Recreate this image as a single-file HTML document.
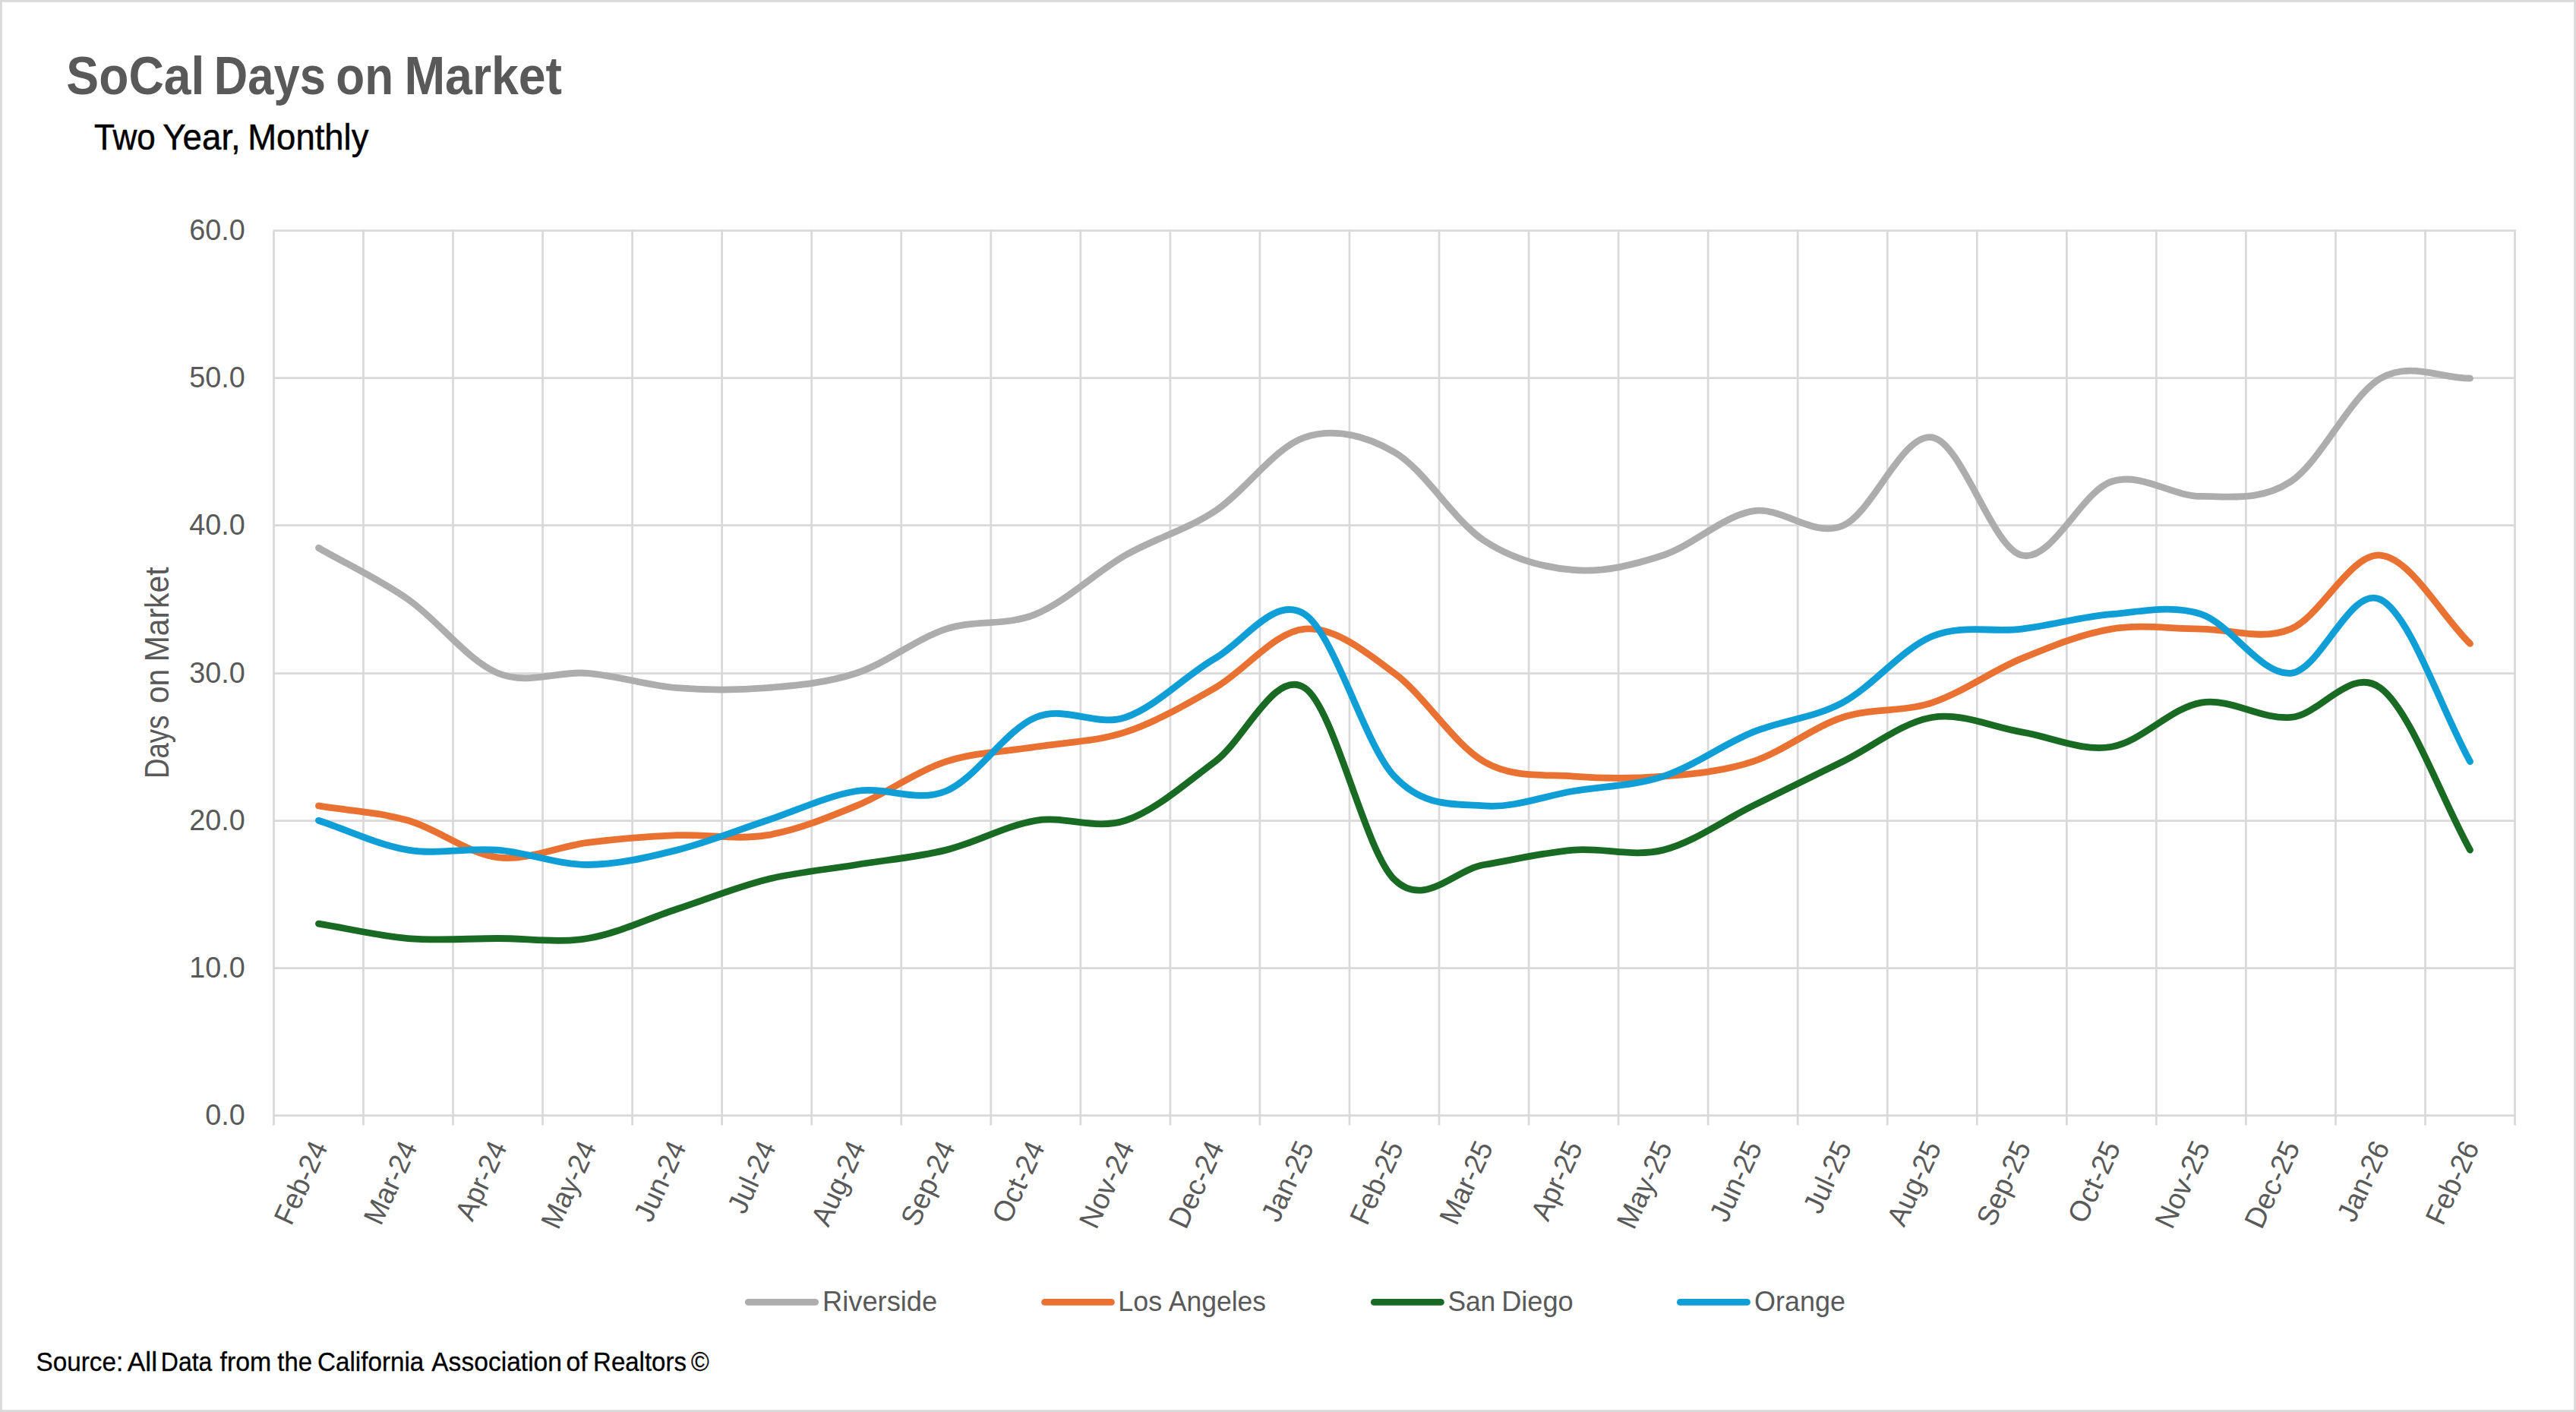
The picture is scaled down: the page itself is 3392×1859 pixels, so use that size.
<!DOCTYPE html>
<html lang="en"><head><meta charset="utf-8"><title>SoCal Days on Market</title>
<style>html,body{margin:0;padding:0;background:#fff;overflow:hidden}svg{display:block}text{font-family:"Liberation Sans",sans-serif}</style></head><body>
<svg width="3392" height="1859" viewBox="0 0 3392 1859">
<rect x="0" y="0" width="3392" height="1859" fill="#fff"/>
<rect x="1.4" y="1.4" width="3389.2" height="1856.2" fill="none" stroke="#D9D9D9" stroke-width="2.8"/>
<g stroke="#D9D9D9" stroke-width="2.75" fill="none">
<line x1="359.47" y1="1468.55" x2="3312.93" y2="1468.55"/>
<line x1="359.47" y1="1274.60" x2="3311.55" y2="1274.60"/>
<line x1="359.47" y1="1080.66" x2="3311.55" y2="1080.66"/>
<line x1="359.47" y1="886.62" x2="3311.55" y2="886.62"/>
<line x1="359.47" y1="691.62" x2="3311.55" y2="691.62"/>
<line x1="359.47" y1="497.68" x2="3311.55" y2="497.68"/>
<line x1="359.47" y1="303.56" x2="3311.55" y2="303.56"/>
<line x1="360.45" y1="304.56" x2="360.45" y2="1481.60"/>
<line x1="478.49" y1="302.19" x2="478.49" y2="1481.60"/>
<line x1="596.54" y1="302.19" x2="596.54" y2="1481.60"/>
<line x1="714.58" y1="302.19" x2="714.58" y2="1481.60"/>
<line x1="832.63" y1="302.19" x2="832.63" y2="1481.60"/>
<line x1="950.67" y1="302.19" x2="950.67" y2="1481.60"/>
<line x1="1068.71" y1="302.19" x2="1068.71" y2="1481.60"/>
<line x1="1186.76" y1="302.19" x2="1186.76" y2="1481.60"/>
<line x1="1304.80" y1="302.19" x2="1304.80" y2="1481.60"/>
<line x1="1422.85" y1="302.19" x2="1422.85" y2="1481.60"/>
<line x1="1540.89" y1="302.19" x2="1540.89" y2="1481.60"/>
<line x1="1658.93" y1="302.19" x2="1658.93" y2="1481.60"/>
<line x1="1776.98" y1="302.19" x2="1776.98" y2="1481.60"/>
<line x1="1895.02" y1="302.19" x2="1895.02" y2="1481.60"/>
<line x1="2013.07" y1="302.19" x2="2013.07" y2="1481.60"/>
<line x1="2131.11" y1="302.19" x2="2131.11" y2="1481.60"/>
<line x1="2249.15" y1="302.19" x2="2249.15" y2="1481.60"/>
<line x1="2367.20" y1="302.19" x2="2367.20" y2="1481.60"/>
<line x1="2485.24" y1="302.19" x2="2485.24" y2="1481.60"/>
<line x1="2603.29" y1="302.19" x2="2603.29" y2="1481.60"/>
<line x1="2721.33" y1="302.19" x2="2721.33" y2="1481.60"/>
<line x1="2839.37" y1="302.19" x2="2839.37" y2="1481.60"/>
<line x1="2957.42" y1="302.19" x2="2957.42" y2="1481.60"/>
<line x1="3075.46" y1="302.19" x2="3075.46" y2="1481.60"/>
<line x1="3193.51" y1="302.19" x2="3193.51" y2="1481.60"/>
<line x1="3311.55" y1="302.19" x2="3311.55" y2="1481.60"/>
</g>
<g fill="none" stroke-width="8.80" stroke-linecap="round" stroke-linejoin="round">
<path stroke="#ADADAD" d="M419.47 721.34 C458.82 743.98 498.17 761.77 537.52 789.25 C576.86 816.74 616.21 870.10 655.56 886.27 C694.91 902.44 734.26 883.04 773.60 886.27 C812.95 889.50 852.30 902.44 891.65 905.67 C931.00 908.91 970.34 908.91 1009.69 905.67 C1049.04 902.44 1088.39 899.21 1127.74 886.27 C1167.08 873.33 1206.43 841.00 1245.78 828.06 C1285.13 815.13 1324.48 824.83 1363.82 808.66 C1403.17 792.49 1442.52 753.68 1481.87 731.05 C1521.22 708.41 1560.56 698.71 1599.91 672.84 C1639.26 646.97 1678.61 588.76 1717.96 575.82 C1757.30 562.89 1796.65 572.59 1836.00 595.22 C1875.35 617.86 1914.70 685.77 1954.04 711.64 C1993.39 737.51 2032.74 747.22 2072.09 750.45 C2111.44 753.68 2150.78 743.98 2190.13 731.05 C2229.48 718.11 2268.83 679.30 2308.18 672.84 C2347.52 666.37 2386.87 708.41 2426.22 692.24 C2465.57 676.07 2504.92 569.35 2544.26 575.82 C2583.61 582.29 2622.96 721.34 2662.31 731.05 C2701.66 740.75 2741.00 646.97 2780.35 634.03 C2819.70 621.10 2859.05 653.43 2898.40 653.43 C2937.74 653.43 2977.09 659.90 3016.44 634.03 C3055.79 608.16 3095.14 520.85 3134.48 498.21 C3173.83 475.57 3213.18 498.21 3252.53 498.21"/>
<path stroke="#E97132" d="M419.47 1060.90 C458.82 1067.36 498.17 1068.98 537.52 1080.30 C576.86 1091.62 616.21 1123.96 655.56 1128.81 C694.91 1133.66 734.26 1114.26 773.60 1109.40 C812.95 1104.55 852.30 1101.32 891.65 1099.70 C931.00 1098.09 970.34 1106.17 1009.69 1099.70 C1049.04 1093.24 1088.39 1077.07 1127.74 1060.90 C1167.08 1044.73 1206.43 1015.62 1245.78 1002.69 C1285.13 989.75 1324.48 989.75 1363.82 983.28 C1403.17 976.82 1442.52 976.82 1481.87 963.88 C1521.22 950.95 1560.56 928.31 1599.91 905.67 C1639.26 883.04 1678.61 831.29 1717.96 828.06 C1757.30 824.83 1796.65 857.17 1836.00 886.27 C1875.35 915.37 1914.70 980.05 1954.04 1002.69 C1993.39 1025.32 2032.74 1018.86 2072.09 1022.09 C2111.44 1025.32 2150.78 1025.32 2190.13 1022.09 C2229.48 1018.86 2268.83 1015.62 2308.18 1002.69 C2347.52 989.75 2386.87 957.41 2426.22 944.48 C2465.57 931.54 2504.92 938.01 2544.26 925.08 C2583.61 912.14 2622.96 883.04 2662.31 866.87 C2701.66 850.70 2741.00 834.53 2780.35 828.06 C2819.70 821.59 2859.05 828.06 2898.40 828.06 C2937.74 828.06 2977.09 844.23 3016.44 828.06 C3055.79 811.89 3095.14 727.81 3134.48 731.05 C3173.83 734.28 3213.18 808.66 3252.53 847.46"/>
<path stroke="#196B24" d="M419.47 1216.12 C458.82 1222.59 498.17 1232.29 537.52 1235.52 C576.86 1238.76 616.21 1235.52 655.56 1235.52 C694.91 1235.52 734.26 1241.99 773.60 1235.52 C812.95 1229.06 852.30 1209.65 891.65 1196.72 C931.00 1183.78 970.34 1167.61 1009.69 1157.91 C1049.04 1148.21 1088.39 1144.98 1127.74 1138.51 C1167.08 1132.04 1206.43 1128.81 1245.78 1119.11 C1285.13 1109.40 1324.48 1086.77 1363.82 1080.30 C1403.17 1073.83 1442.52 1093.24 1481.87 1080.30 C1521.22 1067.36 1560.56 1031.79 1599.91 1002.69 C1639.26 973.58 1678.61 879.80 1717.96 905.67 C1757.30 931.54 1796.65 1119.11 1836.00 1157.91 C1875.35 1196.72 1914.70 1144.98 1954.04 1138.51 C1993.39 1132.04 2032.74 1122.34 2072.09 1119.11 C2111.44 1115.87 2150.78 1128.81 2190.13 1119.11 C2229.48 1109.40 2268.83 1080.30 2308.18 1060.90 C2347.52 1041.49 2386.87 1022.09 2426.22 1002.69 C2465.57 983.28 2504.92 950.95 2544.26 944.48 C2583.61 938.01 2622.96 957.41 2662.31 963.88 C2701.66 970.35 2741.00 989.75 2780.35 983.28 C2819.70 976.82 2859.05 931.54 2898.40 925.08 C2937.74 918.61 2977.09 947.71 3016.44 944.48 C3055.79 941.25 3095.14 876.57 3134.48 905.67 C3173.83 934.78 3213.18 1047.96 3252.53 1119.11"/>
<path stroke="#0F9ED5" d="M419.47 1080.30 C458.82 1093.24 498.17 1112.64 537.52 1119.11 C576.86 1125.57 616.21 1115.87 655.56 1119.11 C694.91 1122.34 734.26 1138.51 773.60 1138.51 C812.95 1138.51 852.30 1128.81 891.65 1119.11 C931.00 1109.40 970.34 1093.24 1009.69 1080.30 C1049.04 1067.36 1088.39 1047.96 1127.74 1041.49 C1167.08 1035.03 1206.43 1057.66 1245.78 1041.49 C1285.13 1025.32 1324.48 960.65 1363.82 944.48 C1403.17 928.31 1442.52 957.41 1481.87 944.48 C1521.22 931.54 1560.56 889.50 1599.91 866.87 C1639.26 844.23 1678.61 782.79 1717.96 808.66 C1757.30 834.53 1796.65 980.05 1836.00 1022.09 C1875.35 1064.13 1914.70 1057.66 1954.04 1060.90 C1993.39 1064.13 2032.74 1047.96 2072.09 1041.49 C2111.44 1035.03 2150.78 1035.03 2190.13 1022.09 C2229.48 1009.16 2268.83 980.05 2308.18 963.88 C2347.52 947.71 2386.87 946.10 2426.22 925.08 C2465.57 904.06 2504.92 853.93 2544.26 837.76 C2583.61 821.59 2622.96 832.91 2662.31 828.06 C2701.66 823.21 2741.00 811.89 2780.35 808.66 C2819.70 805.42 2859.05 795.72 2898.40 808.66 C2937.74 821.59 2977.09 889.50 3016.44 886.27 C3055.79 883.04 3095.14 769.85 3134.48 789.25 C3173.83 808.66 3213.18 931.54 3252.53 1002.69"/>
</g>
<text y="123.90" font-size="70.20" fill="#595959" font-weight="bold"><tspan x="87.35" textLength="182.00" lengthAdjust="spacingAndGlyphs">SoCal</tspan> <tspan x="281.78" textLength="147.14" lengthAdjust="spacingAndGlyphs">Days</tspan> <tspan x="442.28" textLength="75.77" lengthAdjust="spacingAndGlyphs">on</tspan> <tspan x="532.39" textLength="207.70" lengthAdjust="spacingAndGlyphs">Market</tspan></text>
<text y="196.90" font-size="47.30" fill="#000" stroke="#000" stroke-width="0.5"><tspan x="124.01" textLength="80.84" lengthAdjust="spacingAndGlyphs">Two</tspan> <tspan x="214.30" textLength="102.51" lengthAdjust="spacingAndGlyphs">Year,</tspan> <tspan x="326.27" textLength="159.12" lengthAdjust="spacingAndGlyphs">Monthly</tspan></text>
<text transform="translate(322.70 1481.15) scale(0.9920 1)" font-size="38.10" fill="#595959" text-anchor="end">0.0</text>
<text transform="translate(322.70 1287.20) scale(0.9920 1)" font-size="38.10" fill="#595959" text-anchor="end">10.0</text>
<text transform="translate(322.70 1093.26) scale(0.9920 1)" font-size="38.10" fill="#595959" text-anchor="end">20.0</text>
<text transform="translate(322.70 899.22) scale(0.9920 1)" font-size="38.10" fill="#595959" text-anchor="end">30.0</text>
<text transform="translate(322.70 704.22) scale(0.9920 1)" font-size="38.10" fill="#595959" text-anchor="end">40.0</text>
<text transform="translate(322.70 510.28) scale(0.9920 1)" font-size="38.10" fill="#595959" text-anchor="end">50.0</text>
<text transform="translate(322.70 316.16) scale(0.9920 1)" font-size="38.10" fill="#595959" text-anchor="end">60.0</text>
<g transform="translate(222.3 1022.0) rotate(-90)"><text y="0.00" font-size="43.60" fill="#595959"><tspan x="-3.00" textLength="83.43" lengthAdjust="spacingAndGlyphs">Days</tspan> <tspan x="95.89" textLength="45.36" lengthAdjust="spacingAndGlyphs">on</tspan> <tspan x="150.65" textLength="124.85" lengthAdjust="spacingAndGlyphs">Market</tspan></text></g>
<text transform="translate(432.27 1510.10) rotate(-65.00) scale(0.9585 1)" font-size="38.10" fill="#595959" text-anchor="end">Feb-24</text>
<text transform="translate(550.32 1510.10) rotate(-65.00) scale(0.9585 1)" font-size="38.10" fill="#595959" text-anchor="end">Mar-24</text>
<text transform="translate(668.36 1510.10) rotate(-65.00) scale(0.9585 1)" font-size="38.10" fill="#595959" text-anchor="end">Apr-24</text>
<text transform="translate(786.40 1510.10) rotate(-65.00) scale(0.9585 1)" font-size="38.10" fill="#595959" text-anchor="end">May-24</text>
<text transform="translate(904.45 1510.10) rotate(-65.00) scale(0.9585 1)" font-size="38.10" fill="#595959" text-anchor="end">Jun-24</text>
<text transform="translate(1022.49 1510.10) rotate(-65.00) scale(0.9585 1)" font-size="38.10" fill="#595959" text-anchor="end">Jul-24</text>
<text transform="translate(1140.54 1510.10) rotate(-65.00) scale(0.9585 1)" font-size="38.10" fill="#595959" text-anchor="end">Aug-24</text>
<text transform="translate(1258.58 1510.10) rotate(-65.00) scale(0.9585 1)" font-size="38.10" fill="#595959" text-anchor="end">Sep-24</text>
<text transform="translate(1376.62 1510.10) rotate(-65.00) scale(0.9920 1)" font-size="38.10" fill="#595959" text-anchor="end">Oct-24</text>
<text transform="translate(1494.67 1510.10) rotate(-65.00) scale(0.9873 1)" font-size="38.10" fill="#595959" text-anchor="end">Nov-24</text>
<text transform="translate(1612.71 1510.10) rotate(-65.00) scale(0.9873 1)" font-size="38.10" fill="#595959" text-anchor="end">Dec-24</text>
<text transform="translate(1730.76 1510.10) rotate(-65.00) scale(0.9585 1)" font-size="38.10" fill="#595959" text-anchor="end">Jan-25</text>
<text transform="translate(1848.80 1510.10) rotate(-65.00) scale(0.9585 1)" font-size="38.10" fill="#595959" text-anchor="end">Feb-25</text>
<text transform="translate(1966.84 1510.10) rotate(-65.00) scale(0.9585 1)" font-size="38.10" fill="#595959" text-anchor="end">Mar-25</text>
<text transform="translate(2084.89 1510.10) rotate(-65.00) scale(0.9585 1)" font-size="38.10" fill="#595959" text-anchor="end">Apr-25</text>
<text transform="translate(2202.93 1510.10) rotate(-65.00) scale(0.9585 1)" font-size="38.10" fill="#595959" text-anchor="end">May-25</text>
<text transform="translate(2320.98 1510.10) rotate(-65.00) scale(0.9585 1)" font-size="38.10" fill="#595959" text-anchor="end">Jun-25</text>
<text transform="translate(2439.02 1510.10) rotate(-65.00) scale(0.9585 1)" font-size="38.10" fill="#595959" text-anchor="end">Jul-25</text>
<text transform="translate(2557.06 1510.10) rotate(-65.00) scale(0.9585 1)" font-size="38.10" fill="#595959" text-anchor="end">Aug-25</text>
<text transform="translate(2675.11 1510.10) rotate(-65.00) scale(0.9585 1)" font-size="38.10" fill="#595959" text-anchor="end">Sep-25</text>
<text transform="translate(2793.15 1510.10) rotate(-65.00) scale(0.9920 1)" font-size="38.10" fill="#595959" text-anchor="end">Oct-25</text>
<text transform="translate(2911.20 1510.10) rotate(-65.00) scale(0.9873 1)" font-size="38.10" fill="#595959" text-anchor="end">Nov-25</text>
<text transform="translate(3029.24 1510.10) rotate(-65.00) scale(0.9873 1)" font-size="38.10" fill="#595959" text-anchor="end">Dec-25</text>
<text transform="translate(3147.28 1510.10) rotate(-65.00) scale(0.9585 1)" font-size="38.10" fill="#595959" text-anchor="end">Jan-26</text>
<text transform="translate(3265.33 1510.10) rotate(-65.00) scale(0.9585 1)" font-size="38.10" fill="#595959" text-anchor="end">Feb-26</text>
<line x1="985.30" y1="1714.40" x2="1073.60" y2="1714.40" stroke="#ADADAD" stroke-width="8.80" stroke-linecap="round"/>
<line x1="1375.60" y1="1714.40" x2="1463.40" y2="1714.40" stroke="#E97132" stroke-width="8.80" stroke-linecap="round"/>
<line x1="1809.30" y1="1714.40" x2="1897.40" y2="1714.40" stroke="#196B24" stroke-width="8.80" stroke-linecap="round"/>
<line x1="2212.40" y1="1714.40" x2="2300.50" y2="1714.40" stroke="#0F9ED5" stroke-width="8.80" stroke-linecap="round"/>
<text y="1725.80" font-size="37.40" fill="#595959"><tspan x="1083.02" textLength="151.19" lengthAdjust="spacingAndGlyphs">Riverside</tspan></text>
<text y="1725.80" font-size="37.40" fill="#595959"><tspan x="1472.36" textLength="57.84" lengthAdjust="spacingAndGlyphs">Los</tspan> <tspan x="1538.83" textLength="128.25" lengthAdjust="spacingAndGlyphs">Angeles</tspan></text>
<text y="1725.80" font-size="37.40" fill="#595959"><tspan x="1906.39" textLength="62.90" lengthAdjust="spacingAndGlyphs">San</tspan> <tspan x="1977.13" textLength="94.59" lengthAdjust="spacingAndGlyphs">Diego</tspan></text>
<text y="1725.80" font-size="37.40" fill="#595959"><tspan x="2310.10" textLength="120.00" lengthAdjust="spacingAndGlyphs">Orange</tspan></text>
<text y="1805.00" font-size="34.30" fill="#000" stroke="#000" stroke-width="0.3"><tspan x="47.49" textLength="114.65" lengthAdjust="spacingAndGlyphs">Source:</tspan> <tspan x="167.73" textLength="39.34" lengthAdjust="spacingAndGlyphs">All</tspan> <tspan x="211.77" textLength="67.63" lengthAdjust="spacingAndGlyphs">Data</tspan> <tspan x="289.62" textLength="67.71" lengthAdjust="spacingAndGlyphs">from</tspan> <tspan x="365.30" textLength="45.66" lengthAdjust="spacingAndGlyphs">the</tspan> <tspan x="418.12" textLength="140.08" lengthAdjust="spacingAndGlyphs">California</tspan> <tspan x="568.23" textLength="171.75" lengthAdjust="spacingAndGlyphs">Association</tspan> <tspan x="745.48" textLength="28.17" lengthAdjust="spacingAndGlyphs">of</tspan> <tspan x="781.09" textLength="122.90" lengthAdjust="spacingAndGlyphs">Realtors</tspan> <tspan x="910.01" textLength="23.69" lengthAdjust="spacingAndGlyphs">©</tspan></text>
</svg></body></html>
